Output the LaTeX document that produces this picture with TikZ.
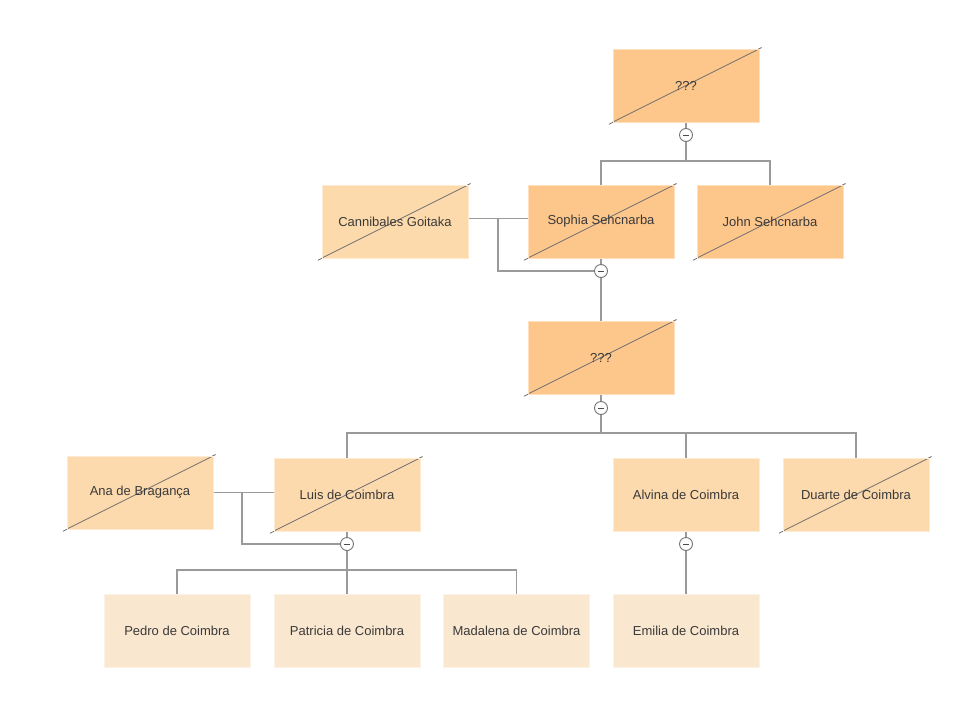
\documentclass[tikz,border=0pt]{standalone}
\usepackage{fontspec}
\setmainfont{Liberation Sans}
\usetikzlibrary{calc,backgrounds}
\definecolor{cA}{HTML}{FDC68A}
\definecolor{cB}{HTML}{FDDAAB}
\definecolor{cC}{HTML}{FCDAAE}
\definecolor{cD}{HTML}{FAE7D0}
\definecolor{txt}{HTML}{3A3A3A}
\definecolor{conncol}{HTML}{9A9A9A}
\definecolor{diagcol}{HTML}{707070}
\begin{document}
\begin{tikzpicture}[x=1pt,y=-1pt,
  box/.style={rectangle,minimum width=146pt,minimum height=73pt,inner sep=0pt,
    text=txt,font=\fontsize{13pt}{15pt}\selectfont,draw=#1!55!white,line width=0.8pt,fill=#1},
  crossed/.style={path picture={\draw[diagcol,line width=0.8pt]
    (path picture bounding box.south west) -- (path picture bounding box.north east);}},
  conn/.style={draw=conncol,line width=1.4pt},
  toggle/.style={circle,draw=black!55,fill=white,line width=0.9pt,minimum size=13pt,inner sep=0pt,
    path picture={\draw[black!70,line width=0.9pt]
      ([xshift=-3pt]path picture bounding box.center) -- ([xshift=3pt]path picture bounding box.center);}}
]
\useasboundingbox (0,0) rectangle (974,723);

% boxes
\node[box=cA,crossed] (top) at (686,85.5) {???};
\node[box=cA,crossed] (sophia) at (601,221.5) {Sophia Sehcnarba};
\node[box=cA,crossed] (john) at (770,221.5) {John Sehcnarba};
\node[box=cB,crossed] (cann) at (395,221.5) {Cannibales Goitaka};
\node[box=cA,crossed] (q2) at (601,357.5) {???};
\node[box=cC,crossed] (ana) at (140,492.5) {Ana de Bragança};
\node[box=cC,crossed] (luis) at (347,494.5) {Luis de Coimbra};
\node[box=cC] (alvina) at (686,494.5) {Alvina de Coimbra};
\node[box=cC,crossed] (duarte) at (856,494.5) {Duarte de Coimbra};
\node[box=cD] (pedro) at (177,630.5) {Pedro de Coimbra};
\node[box=cD] (patricia) at (347,630.5) {Patricia de Coimbra};
\node[box=cD] (madalena) at (516.5,630.5) {Madalena de Coimbra};
\node[box=cD] (emilia) at (686,630.5) {Emilia de Coimbra};

% diagonal overshoots (behind boxes)
\begin{scope}[on background layer]
\foreach \n in {top,sophia,john,cann,q2,ana,luis,duarte}{
  \draw[diagcol,line width=0.8pt] ($(\n.south west)!-0.025!(\n.north east)$) -- ($(\n.north east)!-0.015!(\n.south west)$);
}
\end{scope}

% toggles
\node[toggle] (t1) at (686,135) {};
\node[toggle] (t2) at (601,271) {};
\node[toggle] (t3) at (601,408) {};
\node[toggle] (t4) at (347,544) {};
\node[toggle] (t5) at (686,544) {};

\coordinate (bar1) at (686,161);
\coordinate (bar2) at (601,433);
\coordinate (bar3) at (347,570);
\coordinate (s1) at (498,218.5);
\coordinate (s2) at (242,493);

\begin{scope}[on background layer]
% generation 1
\draw[conn] (top) -- (t1);
\draw[conn] (t1) -- (bar1);
\draw[conn] (sophia.north) |- (bar1) -| (john.north);
% couple 1
\draw[conn] ([yshift=3pt]cann.east) -- ([yshift=3pt]sophia.west);
\draw[conn] (s1) |- (t2);
\draw[conn] (sophia) -- (t2);
\draw[conn] (t2) -- (q2);
% generation 2
\draw[conn] (q2) -- (t3);
\draw[conn] (t3) -- (bar2);
\draw[conn] (luis.north) |- (bar2) -| (duarte.north);
\draw[conn] (alvina.north) -- (alvina.north |- bar2);
% couple 2
\draw[conn] (ana.east) -- (ana.east -| luis.west);
\draw[conn] (s2) |- (t4);
\draw[conn] (luis) -- (t4);
\draw[conn] (t4) -- (bar3);
\draw[conn] (pedro.north) |- (bar3) -| (madalena.north);
\draw[conn] (patricia.north) -- (bar3);
% Alvina
\draw[conn] (alvina) -- (t5);
\draw[conn] (t5) -- (emilia);
\end{scope}
\end{tikzpicture}
\end{document}
